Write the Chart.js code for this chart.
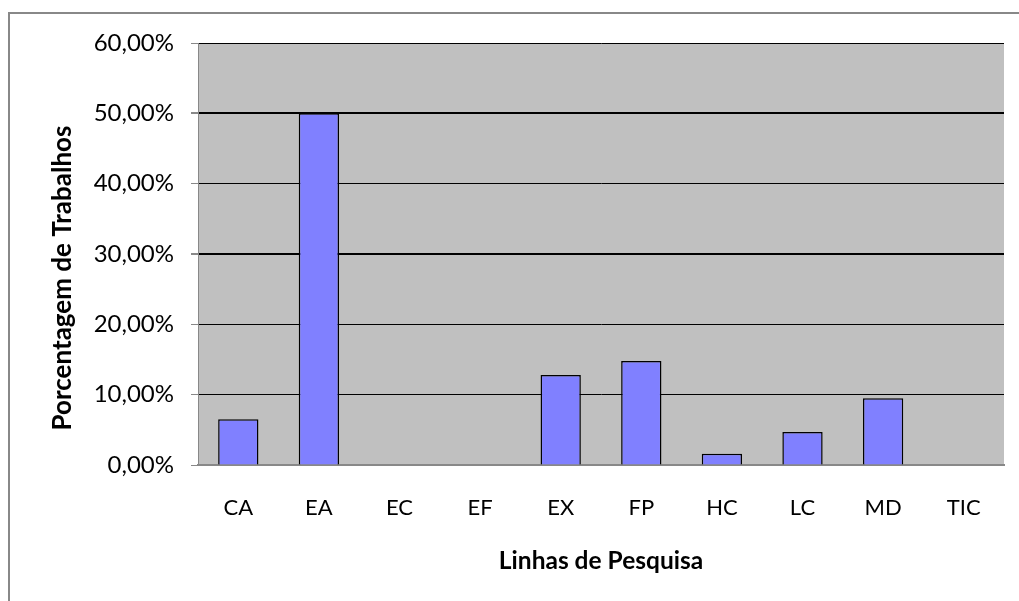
<!DOCTYPE html>
<html>
<head>
<meta charset="utf-8">
<script src="https://cdn.jsdelivr.net/npm/chart.js@4.4.0/dist/chart.umd.min.js"></script>
<style>
html,body{margin:0;padding:0;background:#fff;}
#wrap{width:1019px;height:601px;position:relative;}
</style>
</head>
<body>
<div id="wrap"><canvas id="c" width="1019" height="601"></canvas></div>
<script>
const categories = ['CA','EA','EC','EF','EX','FP','HC','LC','MD','TIC'];
const values = [6.5, 50, 0, 0, 12.8, 14.8, 1.6, 4.7, 9.5, 0];
const yTickLabels = ['0,00%','10,00%','20,00%','30,00%','40,00%','50,00%','60,00%'];
const xTitle = 'Linhas de Pesquisa';
const yTitle = 'Porcentagem de Trabalhos';

const FONT = 'Lato, "Open Sans", sans-serif';

const bgPlugin = {
  id: 'bg',
  beforeDraw(chart) {
    const {ctx, chartArea: a} = chart;
    ctx.save();
    ctx.fillStyle = '#fff';
    ctx.fillRect(0, 0, chart.width, chart.height);
    ctx.strokeStyle = '#888';
    ctx.lineWidth = 2;
    ctx.strokeRect(9, 13, chart.width + 10, chart.height + 10);
    ctx.fillStyle = '#C0C0C0';
    ctx.fillRect(a.left, a.top, a.right - a.left, a.bottom - a.top);
    ctx.restore();
  },
  afterDraw(chart) {
    const {ctx} = chart;
    ctx.save();
    ctx.translate(63, 278);
    ctx.rotate(-Math.PI / 2);
    ctx.fillStyle = '#000';
    ctx.font = 'bold 26px ' + FONT;
    ctx.textAlign = 'center';
    ctx.textBaseline = 'middle';
    ctx.fillText(yTitle, 0, 0);
    ctx.restore();
  }
};

new Chart(document.getElementById('c'), {
  type: 'bar',
  data: {
    labels: categories,
    datasets: [{
      data: values,
      backgroundColor: '#8080FF',
      borderColor: '#000',
      borderWidth: 1.5,
      borderSkipped: 'start',
      barPercentage: 0.5,
      categoryPercentage: 1.0
    }]
  },
  plugins: [bgPlugin],
  options: {
    responsive: false,
    animation: false,
    devicePixelRatio: 1,
    layout: { padding: { top: 43, right: 15, left: 0, bottom: 0 } },
    plugins: { legend: { display: false }, tooltip: { enabled: false }, title: { display: false } },
    scales: {
      x: {
        afterFit(scale) { scale.height = 136; },
        grid: { display: false, drawTicks: false },
        border: { display: true, color: '#888', width: 2 },
        ticks: { color: '#000', font: { family: FONT, size: 22 }, padding: 30, maxRotation: 0 },
        title: { display: true, text: xTitle, color: '#000', font: { family: FONT, size: 24.5, weight: 'bold' }, padding: { top: 0, bottom: 25 } }
      },
      y: {
        afterFit(scale) { scale.width = 198; },
        min: 0, max: 60,
        ticks: {
          stepSize: 10,
          color: '#000',
          font: { family: FONT, size: 24 },
          padding: 17,
          callback: (v, i) => yTickLabels[i]
        },
        grid: {
          color: '#000',
          tickColor: '#888',
          tickLength: 7,
          lineWidth: (c) => (c.tick && (c.tick.value === 30 || c.tick.value === 50)) ? 2 : 1
        },
        border: { display: true, color: '#888', width: 1 },
        title: { display: false }
      }
    }
  }
});
</script>
</body>
</html>
